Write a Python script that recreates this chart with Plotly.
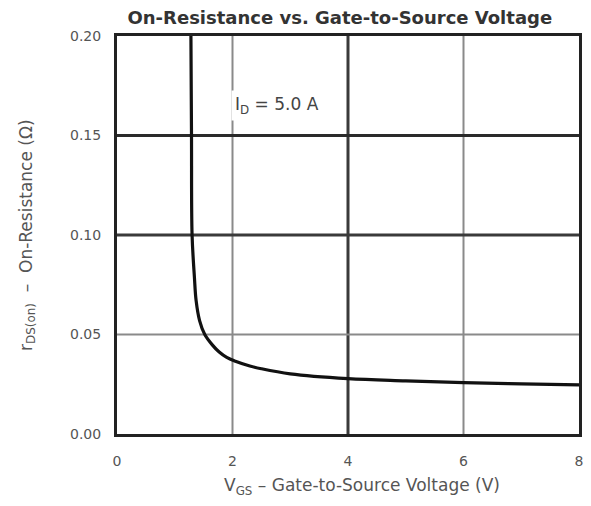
import plotly.graph_objects as go

# Data
vgs = [1.28, 1.29, 1.30, 1.34, 1.37, 1.43, 1.52, 1.65, 1.77, 1.90, 2.05, 2.3, 2.5, 3.0, 4.0, 5.0, 6.0, 7.0, 8.0]
rds = [0.20, 0.15, 0.10, 0.079, 0.067, 0.057, 0.050, 0.0448, 0.0412, 0.0385, 0.0366, 0.0342, 0.0328, 0.0302, 0.0278, 0.0267, 0.0258, 0.0252, 0.0247]

x_ticks = [0, 2, 4, 6, 8]
x_tick_labels = ["0", "2", "4", "6", "8"]
y_ticks = [0.00, 0.05, 0.10, 0.15, 0.20]
y_tick_labels = ["0.00", "0.05", "0.10", "0.15", "0.20"]

# gridline styles: (value, width, color)
v_grid = [(2, 2, "#8a8a8a"), (4, 3, "#3a3a3a"), (6, 2, "#8a8a8a")]
h_grid = [(0.05, 2, "#8a8a8a"), (0.10, 3, "#3a3a3a"), (0.15, 3, "#2a2a2a")]

FONT = "DejaVu Sans, Liberation Sans, Arial, sans-serif"

fig = go.Figure()
fig.add_trace(go.Scatter(x=vgs, y=rds, mode="lines",
                         line=dict(color="#111111", width=3.2, shape="spline", smoothing=1.0),
                         showlegend=False, hoverinfo="skip"))

shapes = []
for v, w, c in v_grid:
    shapes.append(dict(type="line", xref="x", yref="y", x0=v, x1=v, y0=0, y1=0.2,
                       line=dict(color=c, width=w), layer="below"))
for v, w, c in h_grid:
    shapes.append(dict(type="line", xref="x", yref="y", x0=0, x1=8, y0=v, y1=v,
                       line=dict(color=c, width=w), layer="below"))

fig.update_layout(
    width=591, height=506,
    margin=dict(l=117, r=8, t=36, b=72),
    paper_bgcolor="white", plot_bgcolor="white",
    font=dict(family=FONT, color="#444444", size=13),
    shapes=shapes,
    title=dict(text="<b>On-Resistance vs. Gate-to-Source Voltage</b>",
               x=0.575, xanchor="center", y=0.966, yanchor="middle",
               font=dict(family=FONT, size=18, color="#333333")),
    xaxis=dict(range=[0, 8], tickvals=x_ticks, ticktext=x_tick_labels,
               showgrid=False, zeroline=False, showline=True, mirror=True,
               linecolor="#222222", linewidth=3, ticks="", ticklabelstandoff=12,
               tickfont=dict(size=14, color="#555555")),
    yaxis=dict(range=[0, 0.2], tickvals=y_ticks, ticktext=y_tick_labels,
               showgrid=False, zeroline=False, showline=True, mirror=True,
               linecolor="#222222", linewidth=3, ticks="", ticklabelstandoff=10,
               tickfont=dict(size=14, color="#555555")),
    annotations=[
        dict(text="I<sub>D</sub> = 5.0 A", x=1.97, y=0.165, xref="x", yref="y",
             xanchor="left", yanchor="middle", showarrow=False, bgcolor="white",
             borderpad=3, font=dict(size=17, color="#444444")),
        dict(text="V<sub>GS</sub> – Gate-to-Source Voltage (V)", x=0.53, y=-0.133,
             xref="paper", yref="paper", xanchor="center", yanchor="middle",
             showarrow=False, font=dict(size=17, color="#555555")),
        dict(text="r<sub>DS(on)</sub>&nbsp;&nbsp;–&nbsp;&nbsp;On-Resistance (Ω)",
             x=-0.195, y=0.5,
             xref="paper", yref="paper", xanchor="center", yanchor="middle",
             textangle=-90, showarrow=False, font=dict(size=17, color="#555555")),
    ],
)

fig.write_html("out.html")
